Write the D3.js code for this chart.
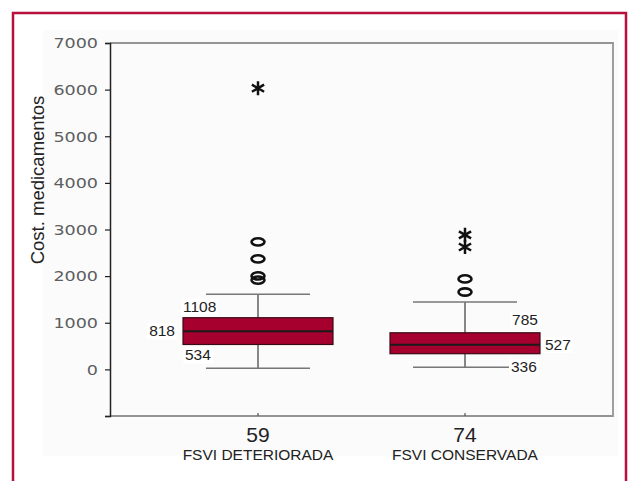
<!DOCTYPE html>
<html>
<head>
<meta charset="utf-8">
<script src="https://cdn.jsdelivr.net/npm/d3@7"></script>
<style>
  html, body { margin: 0; padding: 0; background: #fff; }
  svg { display: block; }
</style>
</head>
<body>
<svg id="chart" width="631" height="481"></svg>
<script>
// Medication cost by FSVI group (box plot)
const categories = ["FSVI DETERIORADA", "FSVI CONSERVADA"];
const counts = [59, 74];
const q1 = [534, 336];
const medians = [818, 527];
const q3 = [1108, 785];
const whiskerLow = [25, 45];
const whiskerHigh = [1610, 1445];
const outliers = [[2735, 2370, 2005, 1915], [1940, 1660]];
const extremes = [[6030], [2885, 2625]];
const yTicks = [0, 1000, 2000, 3000, 4000, 5000, 6000, 7000];

const svg = d3.select("#chart");

// red outer frame and faint panel
svg.append("rect").attr("x", 43).attr("y", 30).attr("width", 575).attr("height", 426)
  .attr("fill", "#fbfbfb");
svg.append("path").attr("d", "M13,485 L13,13 L626,13 L626,485")
  .attr("fill", "none").attr("stroke", "#b80f3c").attr("stroke-width", 2.5);

const plotLeft = 110, plotRight = 613, plotTop = 43, plotBottom = 416;

const y = d3.scaleLinear().domain([-1000, 7000]).range([plotBottom, plotTop]);
const x = d3.scalePoint().domain(categories).range([plotLeft, plotRight]).padding(0.715);
const boxW = 150, capW = 104;

// plot frame (top, right, bottom)
svg.append("path")
  .attr("d", `M${plotLeft},${plotTop} L${plotRight},${plotTop} L${plotRight},${plotBottom} L${plotLeft},${plotBottom}`)
  .attr("fill", "none").attr("stroke", "#959595").attr("stroke-width", 1.8);

// y axis
const yAxis = svg.append("g").attr("transform", `translate(${plotLeft},0)`)
  .call(d3.axisLeft(y).tickValues([-1000].concat(yTicks)).tickSize(5).tickPadding(0)
    .tickFormat(d => d < 0 ? "" : d));
yAxis.select(".domain").attr("stroke", "#222").attr("stroke-width", 1.5);
yAxis.selectAll(".tick line").attr("stroke", "#222").attr("stroke-width", 1.2);
yAxis.selectAll(".tick text")
  .attr("x", -12 / 1.3).attr("dy", "0.36em")
  .attr("transform", "scale(1.3,1)")
  .attr("fill", "#5e5e5e")
  .style("font-family", "DejaVu Sans, sans-serif")
  .style("font-size", "13.5px");

// x category ticks
svg.append("g").selectAll("line").data(categories).join("line")
  .attr("x1", d => x(d)).attr("x2", d => x(d))
  .attr("y1", plotBottom - 3).attr("y2", plotBottom)
  .attr("stroke", "#555").attr("stroke-width", 1.2);

// y axis title
svg.append("text")
  .attr("transform", `translate(44,180) rotate(-90)`)
  .attr("text-anchor", "middle")
  .attr("fill", "#222")
  .style("font-family", "Liberation Sans, Arial, sans-serif")
  .style("font-size", "18.5px")
  .text("Cost. medicamentos");

// x labels: counts and group names
svg.append("g").selectAll("text").data(categories).join("text")
  .attr("x", d => x(d)).attr("y", 442)
  .attr("text-anchor", "middle").attr("fill", "#222")
  .style("font-family", "Liberation Sans, Arial, sans-serif")
  .style("font-size", "21px")
  .text((d, i) => counts[i]);
svg.append("g").selectAll("text").data(categories).join("text")
  .attr("x", d => x(d)).attr("y", 460)
  .attr("text-anchor", "middle").attr("fill", "#222")
  .style("font-family", "Liberation Sans, Arial, sans-serif")
  .style("font-size", "15.5px")
  .text(d => d);

// boxes
const g = svg.append("g");
categories.forEach((c, i) => {
  const cx = x(c);
  // whiskers
  g.append("line").attr("x1", cx).attr("x2", cx)
    .attr("y1", y(q3[i])).attr("y2", y(whiskerHigh[i]))
    .attr("stroke", "#555").attr("stroke-width", 1.4);
  g.append("line").attr("x1", cx).attr("x2", cx)
    .attr("y1", y(q1[i])).attr("y2", y(whiskerLow[i]))
    .attr("stroke", "#555").attr("stroke-width", 1.4);
  [whiskerHigh[i], whiskerLow[i]].forEach(v => {
    g.append("line").attr("x1", cx - capW / 2).attr("x2", cx + capW / 2)
      .attr("y1", y(v)).attr("y2", y(v))
      .attr("stroke", "#777").attr("stroke-width", 1.4);
  });
  // box
  g.append("rect").attr("x", cx - boxW / 2).attr("y", y(q3[i]))
    .attr("width", boxW).attr("height", y(q1[i]) - y(q3[i]))
    .attr("fill", "#a6002f").attr("stroke", "#3a0a14").attr("stroke-width", 1.2);
  g.append("line").attr("x1", cx - boxW / 2).attr("x2", cx + boxW / 2)
    .attr("y1", y(medians[i])).attr("y2", y(medians[i]))
    .attr("stroke", "#1a1a1a").attr("stroke-width", 2);
  // outliers
  outliers[i].forEach(v => {
    g.append("ellipse").attr("cx", cx).attr("cy", y(v))
      .attr("rx", 6.5).attr("ry", 3.6)
      .attr("fill", "none").attr("stroke", "#111").attr("stroke-width", 2.6);
  });
  // extreme values
  extremes[i].forEach(v => {
    g.append("path")
      .attr("transform", `translate(${cx},${y(v)})`)
      .attr("d", d3.symbol(d3.symbolAsterisk, 140)())
      .attr("fill", "none").attr("stroke", "#111").attr("stroke-width", 2.5);
  });
});

// value labels with white backing
function valueLabel(tx, ty, anchor, txt) {
  const t = svg.append("text").attr("x", tx).attr("y", ty)
    .attr("text-anchor", anchor).attr("fill", "#222")
    .style("font-family", "Liberation Sans, Arial, sans-serif")
    .style("font-size", "15.5px").text(txt);
  const b = t.node().getBBox();
  svg.insert("rect", () => t.node())
    .attr("x", b.x - 2).attr("y", b.y + 1).attr("width", b.width + 4).attr("height", b.height - 1)
    .attr("fill", "#fff");
}
const c0 = x(categories[0]), c1 = x(categories[1]);
valueLabel(c0 - boxW / 2, y(q3[0]) - 6, "start", q3[0]);
valueLabel(c0 - boxW / 2 - 8, y(medians[0]) + 5, "end", medians[0]);
valueLabel(c0 - boxW / 2 + 2, y(q1[0]) + 16, "start", q1[0]);
valueLabel(c1 + boxW / 2 - 2, y(q3[1]) - 8, "end", q3[1]);
valueLabel(c1 + boxW / 2 + 5, y(medians[1]) + 5, "start", medians[1]);
valueLabel(c1 + boxW / 2 - 29, y(q1[1]) + 18, "start", q1[1]);
</script>
</body>
</html>
